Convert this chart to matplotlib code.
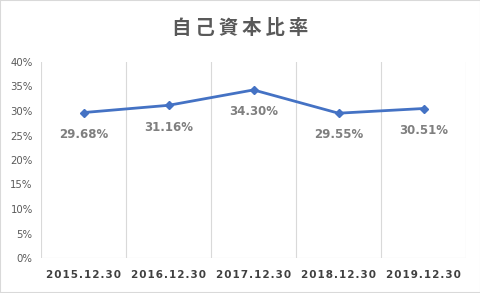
import matplotlib
matplotlib.use("Agg")
import matplotlib.pyplot as plt
from matplotlib.patches import Rectangle

categories = ["2015.12.30", "2016.12.30", "2017.12.30", "2018.12.30", "2019.12.30"]
values = [29.68, 31.16, 34.30, 29.55, 30.51]
labels = ["29.68%", "31.16%", "34.30%", "29.55%", "30.51%"]
yticks = [0, 5, 10, 15, 20, 25, 30, 35, 40]
title = "自己資本比率"

plt.rcParams['font.family'] = ['Noto Sans CJK JP', 'DejaVu Sans']

fig = plt.figure(figsize=(4.81, 2.93), dpi=100)
fig.patches.append(Rectangle((0, 0), 1, 1, transform=fig.transFigure, fill=False,
                             edgecolor='#d9d9d9', linewidth=1.5))
ax = fig.add_axes([41/481, 35/293, 425/481, 196/293])

x = list(range(len(categories)))
ax.plot(x, values, color='#4472c4', linewidth=2, marker='D', markersize=4.5, zorder=3)

for b in [i - 0.5 for i in range(len(categories) + 1)]:
    ax.axvline(b, color='#d9d9d9', linewidth=0.8, zorder=1)
ax.axhline(0, color='#d9d9d9', linewidth=0.8, zorder=1)

ax.set_xlim(-0.5, len(categories) - 0.5)
ax.set_ylim(0, 40)
for s in ax.spines.values():
    s.set_visible(False)

ax.set_yticks(yticks)
ax.set_yticklabels([f"{t}%" for t in yticks], fontsize=7.3, color='#595959',
                   family=['DejaVu Sans'])
ax.tick_params(axis='y', length=0, pad=6)
ax.set_xticks(x)
spaced = ["\u200a".join(c) for c in categories]
ax.set_xticklabels(spaced, fontsize=7.5, color='#404040', fontweight='bold',
                   family=['DejaVu Sans'])
ax.tick_params(axis='x', length=0, pad=9)

for xi, v, lab in zip(x, values, labels):
    ax.annotate(lab, (xi, v), xytext=(0, -11), textcoords='offset points',
                ha='center', va='top', fontsize=8.5, color='#7f7f7f',
                fontweight='bold', family=['DejaVu Sans'])

fig.text(0.5, 1 - 28/293, "\u2009".join(title), ha='center', va='center',
         fontsize=14, color='#595959', fontweight='bold',
         family=['Noto Sans CJK JP', 'DejaVu Sans'])

fig.savefig("out.png", dpi=100)
